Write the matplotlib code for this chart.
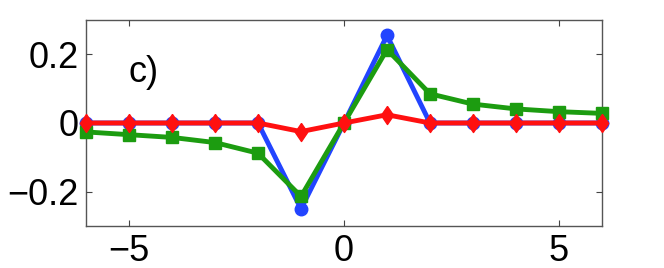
import matplotlib
matplotlib.use("Agg")
import matplotlib.pyplot as plt
import numpy as np

x = list(range(-6, 7))
blue_vals = [0, 0, 0, 0, 0, -0.25, 0, 0.255, 0, 0, 0, 0, 0]
green_vals = [-0.026, -0.034, -0.042, -0.057, -0.088, -0.214, 0,
              0.214, 0.085, 0.055, 0.041, 0.033, 0.028]
red_vals = [0, 0, 0, 0, 0, -0.025, 0, 0.024, 0, 0, 0, 0, 0]
xticks = [-5, 0, 5]
yticks = [-0.2, 0, 0.2]
ytick_labels = ["\u22120.2", "0", "0.2"]
xtick_labels = ["\u22125", "0", "5"]

plt.rcParams['font.family'] = ['Liberation Sans', 'DejaVu Sans']

fig = plt.figure(figsize=(6.64, 2.68), dpi=100)
ax = fig.add_axes([86/664, 42/268, 516/664, 206/268])

diamond = [(0, 1), (0.68, 0), (0, -1), (-0.68, 0), (0, 1)]

ax.plot(x, blue_vals, color='#2244ff', lw=3.5, marker='o', ms=9, mec='#2244ff', mfc='#2244ff', zorder=2, clip_on=False)
ax.plot(x, green_vals, color='#1c9c10', lw=3.5, marker='s', ms=9, mec='#1c9c10', mfc='#1c9c10', zorder=3, clip_on=False)
ax.plot(x, red_vals, color='#ff1010', lw=3.5, marker=diamond, ms=13, mec='#ff1010', mfc='#ff1010', zorder=4, clip_on=False)

ax.set_xlim(-6, 6)
ax.set_ylim(-0.3, 0.3)
ax.set_xticks(xticks)
ax.set_xticklabels(xtick_labels)
ax.set_yticks(yticks)
ax.set_yticklabels(ytick_labels)
ax.tick_params(direction='in', length=4, width=0.8, colors='#444444', labelcolor='black',
               labelsize=26, top=True, right=True, pad=5)
ax.tick_params(axis='x', pad=6)
for s in ax.spines.values():
    s.set_color('#555555')
    s.set_linewidth(1)
    s.set_zorder(1)

ax.text(-5.02, 0.118, "c)", fontsize=26, ha='left', va='baseline')

fig.savefig("out.png", dpi=100)
